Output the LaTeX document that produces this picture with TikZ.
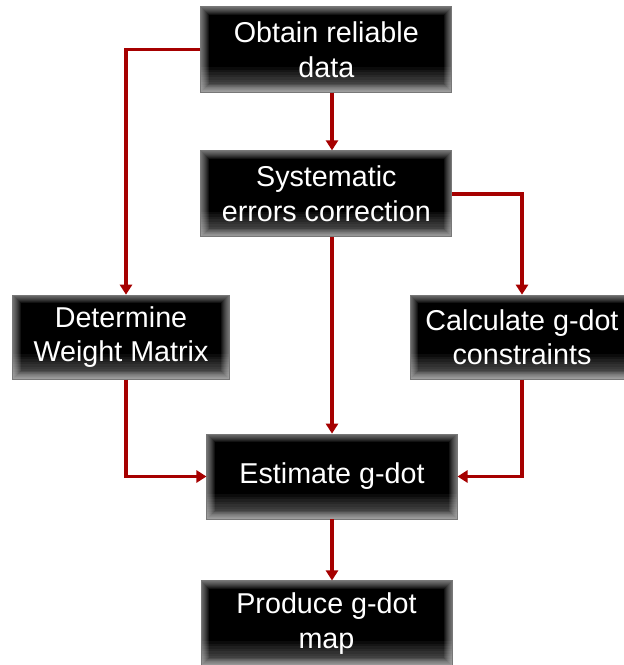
\documentclass[tikz,border=0pt]{standalone}
\usepackage{fontspec}
\setmainfont{Liberation Sans}
\usetikzlibrary{arrows.meta}

\begin{document}
\begin{tikzpicture}[x=0.03cm, y=-0.03cm,
    stepbox/.style={draw=boxedge, line width=0.6pt, fill=black, text=white,
        align=center, inner sep=0pt, minimum width=7.53cm, minimum height=2.56cm,
        font=\fontsize{24.5}{29.5}\selectfont,
        path picture={
            \foreach \w in {0.06,0.12,0.18,0.24,0.30,0.36,0.42,0.48}
                \draw[white, opacity=0.07, line width=\w cm]
                    (path picture bounding box.south west) rectangle (path picture bounding box.north east);
            \foreach \w in {0.15,0.3,0.45,0.6,0.75,0.9,1.05,1.2,1.35,1.5}
                \draw[white, opacity=0.045, line width=\w cm]
                    (path picture bounding box.south west) -- (path picture bounding box.south east);
        }},
    link/.style={draw=linkred, line width=0.11cm, -{Triangle[width=0.36cm, length=0.3cm]}}]
    \definecolor{linkred}{RGB}{166,0,0}
    \definecolor{boxedge}{RGB}{120,120,120}

    \useasboundingbox (0,0) rectangle (624,665);

    \node[stepbox] (b1) at (326.3,49.5) {Obtain reliable\\data};
    \node[stepbox, minimum height=2.58cm] (b2) at (326.3,193.7) {Systematic\\errors correction};
    \node[stepbox, minimum width=6.5cm, minimum height=2.53cm] (b3) at (121,337.2) {Determine\\Weight Matrix};
    \node[stepbox, minimum width=6.72cm, minimum height=2.53cm] (b4) at (522,337.2) {Calculate g-dot\\constraints};
    \node[stepbox, minimum width=7.51cm, minimum height=2.55cm] (b5) at (332,476.5) {Estimate g-dot};
    \node[stepbox] (b6) at (326.5,623.5) {Produce g-dot\\map};

    \coordinate (lft) at (126,0);

    \draw[link] (b1.west) -| (b3.north -| lft);
    \draw[link] (b1.south -| b5.north) -- (b2.north -| b5.north);
    \draw[link] (b2.east) -| (b4.north);
    \draw[link] (b2.south -| b5.north) -- (b5.north);
    \draw[link] (b3.south -| lft) |- (b5.west);
    \draw[link] (b4.south) |- (b5.east);
    \draw[link] (b5.south) -- (b5.south |- b6.north);
\end{tikzpicture}
\end{document}
